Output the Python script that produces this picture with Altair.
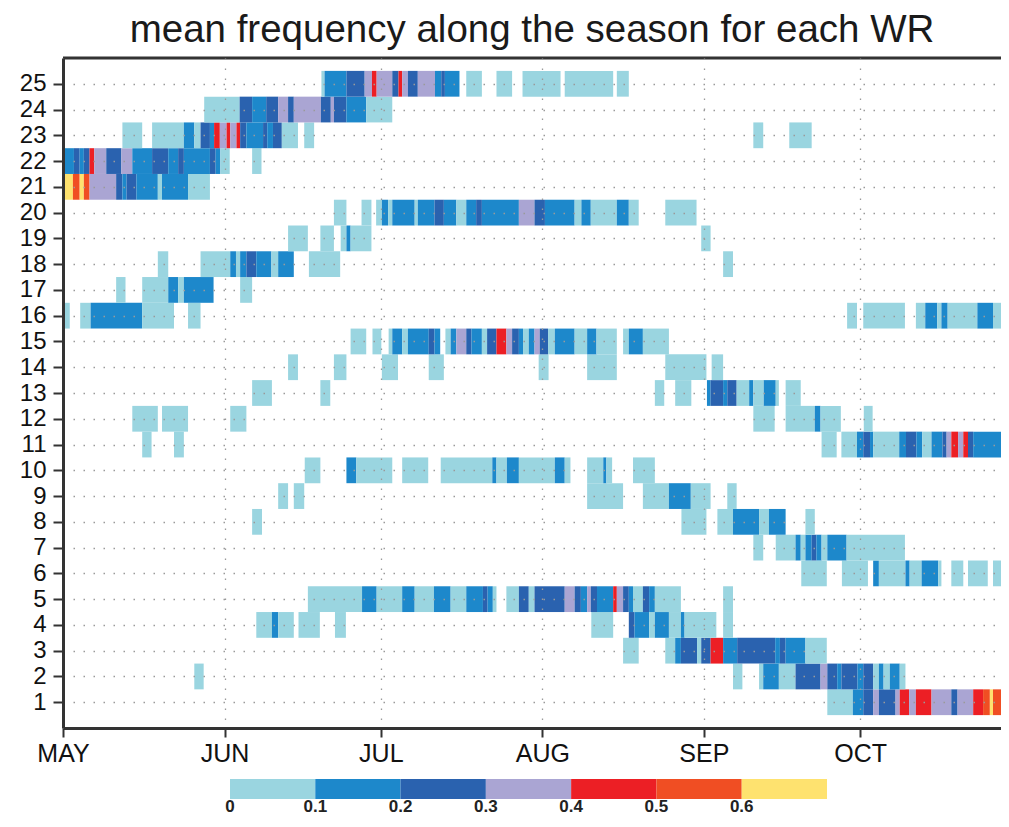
import json
import altair as alt
import pandas as pd

TITLE = "mean frequency along the season for each WR"
MONTHS = ["MAY", "JUN", "JUL", "AUG", "SEP", "OCT"]
MONTH_START = [0, 31, 61, 92, 123, 153]          # day index from 1 May
LEVEL_COLORS = ["#9ad5e0", "#1d88cb", "#2a62af", "#aaa5d3", "#ec1f25", "#f04e23", "#fee26f"]
LEVEL_LABELS = ["0", "0.1", "0.2", "0.3", "0.4", "0.5", "0.6"]

# (start day, end day, frequency class) for each weather regime row
wr25 = [(49.6, 50.2, 0), (50.2, 54.4, 1), (54.4, 57.9, 2), (57.9, 59.3, 3), (59.3, 60.2, 4), (60.2, 63.2, 3),
        (63.2, 64.4, 2), (64.4, 65.1, 4), (65.1, 66.2, 3), (66.2, 68.1, 2), (68.1, 71.4, 3), (71.4, 72.6, 1),
        (72.6, 73.3, 2), (73.3, 76.1, 1), (77.4, 80.4, 0), (83.2, 86.2, 0), (88.2, 95.5, 0), (96.3, 105.6, 0),
        (106.3, 108.6, 0)]
wr24 = [(27.1, 33.9, 0), (33.9, 36.3, 2), (36.3, 39.0, 1), (39.0, 41.3, 2), (41.3, 43.2, 3), (43.2, 44.3, 2),
        (44.3, 49.5, 3), (49.5, 51.4, 2), (51.4, 52.0, 3), (52.0, 54.4, 2), (54.4, 58.2, 1), (58.2, 63.2, 0)]
wr23 = [(11.4, 15.2, 0), (17.1, 23.2, 0), (23.2, 25.2, 1), (25.2, 26.4, 0), (26.4, 28.2, 2), (28.2, 29.0, 1),
        (29.0, 30.1, 4), (30.1, 31.4, 3), (31.4, 32.1, 4), (32.1, 33.3, 3), (33.3, 34.0, 4), (34.0, 35.2, 2),
        (35.2, 38.4, 1), (38.4, 39.2, 2), (39.2, 40.3, 1), (40.3, 42.0, 2), (42.0, 45.1, 0), (46.3, 48.2, 0),
        (132.5, 134.4, 0), (139.4, 143.7, 0)]
wr22 = [(0.0, 2.1, 1), (2.1, 3.2, 2), (3.2, 4.0, 1), (4.0, 5.1, 2), (5.1, 6.0, 4), (6.0, 8.3, 3), (8.3, 11.2, 2),
        (11.2, 13.3, 3), (13.3, 17.1, 1), (17.1, 20.2, 2), (20.2, 22.1, 1), (22.1, 23.2, 2), (23.2, 28.2, 1),
        (28.2, 29.3, 2), (29.3, 30.2, 1), (30.2, 32.0, 0), (36.3, 38.1, 0)]
wr21 = [(0.0, 1.9, 6), (1.9, 3.2, 5), (3.2, 4.0, 6), (4.0, 5.1, 5), (5.1, 10.2, 3), (10.2, 11.4, 2),
        (11.4, 12.2, 1), (12.2, 14.1, 2), (14.1, 18.2, 1), (18.2, 19.0, 0), (19.0, 24.0, 1), (24.0, 28.2, 0)]
wr20 = [(52.0, 54.4, 0), (57.3, 59.2, 0), (60.1, 61.2, 0), (61.2, 62.4, 1), (62.4, 63.2, 0), (63.2, 67.5, 1),
        (67.5, 68.1, 0), (68.1, 71.3, 1), (71.3, 73.1, 2), (73.1, 75.5, 1), (75.5, 77.4, 0), (77.4, 79.3, 1),
        (79.3, 80.4, 2), (80.4, 87.5, 1), (87.5, 90.5, 3), (90.5, 92.5, 2), (92.5, 98.2, 1), (98.2, 99.5, 0),
        (99.5, 101.3, 1), (101.3, 106.3, 0), (106.3, 108.6, 1), (108.6, 110.5, 0), (115.6, 121.6, 0)]
wr19 = [(43.2, 47.0, 0), (49.4, 52.0, 0), (53.3, 54.4, 0), (54.4, 55.2, 1), (55.2, 59.2, 0), (122.5, 124.3, 0)]
wr18 = [(18.2, 20.2, 0), (26.4, 32.1, 0), (32.1, 33.2, 1), (33.2, 34.0, 0), (34.0, 35.2, 1), (35.2, 37.1, 2),
        (37.1, 40.0, 1), (40.0, 41.3, 0), (41.3, 44.3, 1), (47.2, 53.2, 0), (126.7, 128.6, 0)]
wr17 = [(10.2, 12.0, 0), (15.2, 20.2, 0), (20.2, 22.1, 1), (22.1, 23.2, 0), (23.2, 28.9, 1), (34.0, 36.3, 0)]
wr16 = [(0.0, 1.3, 0), (3.3, 5.3, 0), (5.3, 15.2, 1), (15.2, 21.3, 0), (24.0, 26.4, 0), (150.5, 152.4, 0),
        (153.6, 161.6, 0), (163.7, 165.5, 0), (165.5, 167.8, 1), (167.8, 168.6, 0), (168.6, 169.8, 1),
        (169.8, 175.5, 0), (175.5, 178.5, 1), (178.5, 181.6, 0)]
wr15 = [(55.2, 58.2, 0), (59.4, 61.1, 0), (62.5, 63.2, 0), (63.2, 65.1, 1), (65.1, 66.2, 0), (66.2, 70.2, 1),
        (70.2, 71.3, 2), (71.3, 72.4, 1), (73.4, 74.4, 0), (74.4, 75.5, 1), (75.5, 77.4, 3), (77.4, 78.4, 2),
        (78.4, 80.4, 1), (80.4, 81.4, 0), (81.4, 83.2, 2), (83.2, 85.1, 4), (85.1, 86.2, 3), (86.2, 87.5, 2),
        (87.5, 88.3, 1), (88.3, 89.4, 0), (89.4, 90.5, 1), (90.5, 91.5, 3), (91.5, 93.1, 2), (93.1, 94.4, 0),
        (94.4, 98.2, 1), (98.2, 100.6, 0), (100.6, 102.4, 1), (102.4, 106.3, 0), (107.5, 108.6, 0),
        (108.6, 111.3, 1), (111.3, 116.3, 0)]
wr14 = [(43.2, 45.1, 0), (52.0, 54.4, 0), (61.2, 64.3, 0), (70.2, 73.1, 0), (91.3, 93.2, 0), (100.6, 106.3, 0),
        (115.6, 123.5, 0), (124.5, 126.7, 0)]
wr13 = [(36.3, 40.1, 0), (49.4, 51.3, 0), (113.6, 115.4, 0), (117.5, 120.6, 0), (123.6, 124.3, 1),
        (124.3, 126.7, 2), (126.7, 127.5, 1), (127.5, 129.3, 2), (129.3, 131.7, 0), (131.7, 132.5, 1),
        (132.5, 134.5, 0), (134.5, 136.8, 1), (136.8, 137.4, 0), (138.7, 141.6, 0)]
wr12 = [(13.3, 18.2, 0), (19.0, 24.0, 0), (32.1, 35.2, 0), (132.5, 136.6, 0), (138.7, 144.3, 0),
        (144.3, 145.4, 1), (145.4, 149.3, 0), (153.7, 155.4, 0)]
wr11 = [(15.2, 17.0, 0), (21.3, 23.2, 0), (145.6, 148.5, 0), (149.4, 152.4, 0), (152.4, 153.6, 1),
        (153.6, 154.9, 2), (154.9, 155.5, 1), (155.5, 160.5, 0), (160.5, 161.8, 1), (161.8, 163.8, 2),
        (163.8, 164.9, 1), (164.9, 166.7, 0), (166.7, 168.8, 1), (168.8, 169.6, 2), (169.6, 170.5, 3),
        (170.5, 171.8, 4), (171.8, 172.8, 3), (172.8, 173.7, 4), (173.7, 174.7, 2), (174.7, 181.6, 1)]
wr10 = [(46.4, 49.4, 0), (54.4, 56.3, 1), (56.3, 63.2, 0), (65.1, 70.1, 0), (72.5, 82.4, 0), (82.4, 83.2, 1),
        (83.2, 85.2, 0), (85.2, 87.5, 1), (87.5, 94.4, 0), (94.4, 96.3, 1), (96.3, 97.4, 0), (100.6, 103.7, 0),
        (103.7, 104.3, 1), (104.3, 105.4, 0), (109.4, 113.6, 0)]
wr09 = [(41.3, 43.2, 0), (44.3, 46.3, 0), (100.6, 107.5, 0), (111.3, 116.3, 0), (116.3, 120.5, 1),
        (120.5, 124.3, 0), (127.5, 129.3, 0)]
wr08 = [(36.3, 38.2, 0), (118.7, 123.5, 0), (125.6, 128.6, 0), (128.6, 133.6, 1), (133.6, 135.5, 0),
        (135.5, 138.7, 1), (142.5, 144.3, 0)]
wr07 = [(132.5, 134.4, 0), (136.8, 140.6, 0), (140.6, 141.6, 1), (141.6, 142.5, 0), (142.5, 143.7, 1),
        (143.7, 144.6, 2), (144.6, 145.6, 1), (145.6, 146.7, 0), (146.7, 150.4, 1), (150.4, 161.6, 0)]
wr06 = [(141.7, 146.6, 0), (149.5, 154.5, 0), (155.5, 156.6, 1), (156.6, 161.7, 0), (161.7, 162.5, 1),
        (162.5, 164.8, 0), (164.8, 168.0, 1), (168.0, 168.6, 0), (170.5, 172.8, 0), (173.7, 177.5, 0),
        (178.5, 181.6, 0)]
wr05 = [(47.0, 57.4, 0), (57.4, 60.2, 1), (60.2, 65.1, 0), (65.1, 67.5, 1), (67.5, 71.2, 0), (71.2, 74.4, 1),
        (74.4, 77.4, 0), (77.4, 80.6, 1), (80.6, 81.5, 2), (81.5, 82.5, 1), (82.5, 83.2, 0), (85.1, 87.5, 0),
        (87.5, 89.4, 2), (89.4, 90.5, 0), (90.5, 96.3, 2), (96.3, 98.2, 3), (98.2, 99.4, 2), (99.4, 100.6, 1),
        (100.6, 101.3, 3), (101.3, 102.5, 2), (102.5, 105.6, 1), (105.6, 106.3, 4), (106.3, 107.5, 3),
        (107.5, 108.6, 2), (108.6, 109.4, 1), (109.4, 111.3, 0), (111.3, 112.5, 2), (112.5, 113.6, 1),
        (113.6, 118.6, 0), (126.7, 128.6, 0)]
wr04 = [(37.1, 40.1, 0), (40.1, 41.3, 1), (41.3, 44.3, 0), (45.2, 49.3, 0), (52.2, 54.3, 0), (101.4, 105.6, 0),
        (108.6, 109.7, 2), (109.7, 112.5, 1), (112.5, 113.6, 0), (113.6, 116.3, 1), (116.3, 118.6, 0),
        (118.6, 119.3, 1), (119.3, 125.4, 0), (126.7, 128.6, 0)]
wr03 = [(107.5, 110.5, 0), (115.6, 117.5, 0), (117.5, 118.6, 1), (118.6, 121.7, 2), (121.7, 122.5, 0),
        (122.5, 124.3, 2), (124.3, 126.7, 4), (126.7, 129.4, 1), (129.4, 136.7, 2), (136.7, 137.6, 1),
        (137.6, 138.7, 2), (138.7, 142.5, 1), (142.5, 146.6, 0)]
wr02 = [(25.2, 27.0, 0), (128.6, 130.4, 0), (133.6, 134.4, 0), (134.4, 137.4, 1), (137.4, 140.6, 0),
        (140.6, 145.4, 2), (145.4, 146.7, 3), (146.7, 148.6, 2), (148.6, 149.4, 1), (149.4, 152.5, 2),
        (152.5, 153.6, 1), (153.6, 155.5, 2), (155.5, 156.6, 0), (156.6, 157.5, 1), (157.5, 158.7, 0),
        (158.7, 160.6, 1), (160.6, 161.7, 0)]
wr01 = [(146.7, 151.6, 0), (151.6, 153.6, 1), (153.6, 155.5, 2), (155.5, 156.6, 3), (156.6, 159.8, 2),
        (159.8, 160.6, 3), (160.6, 162.4, 4), (162.4, 163.7, 3), (163.7, 166.7, 4), (166.7, 170.5, 3),
        (170.5, 171.7, 2), (171.7, 174.7, 3), (174.7, 176.6, 4), (176.6, 177.9, 5), (177.9, 178.5, 6),
        (178.5, 181.6, 5)]

ROWS = [wr01, wr02, wr03, wr04, wr05, wr06, wr07, wr08, wr09, wr10, wr11, wr12, wr13,
        wr14, wr15, wr16, wr17, wr18, wr19, wr20, wr21, wr22, wr23, wr24, wr25]

recs = []
for wr, runs in enumerate(ROWS, start=1):
    for s, e, lev in runs:
        recs.append({"wr": wr, "start": s, "end": e, "y0": wr - 0.5, "y1": wr + 0.5, "level": lev})
cells = pd.DataFrame(recs)

W, H = 938, 670
PX_PER_DAY = 5.21
FONT = "Liberation Sans"

color = alt.Color("level:O", scale=alt.Scale(domain=list(range(7)), range=LEVEL_COLORS), legend=None)

label_expr = f"{json.dumps(MONTHS)}[indexof({json.dumps(MONTH_START)}, datum.value)]"

cell_layer = alt.Chart(cells).mark_rect(clip=True).encode(
    x=alt.X("start:Q", scale=alt.Scale(domain=[0, W / PX_PER_DAY], nice=False, zero=False),
            axis=alt.Axis(values=MONTH_START, labelExpr=label_expr, title=None, grid=True,
                          tickSize=9, tickWidth=2, labelFontSize=25, labelPadding=4,
                          labelFlush=False, labelOverlap=False, zindex=1)),
    x2="end:Q",
    y=alt.Y("y0:Q", scale=alt.Scale(domain=[0, 26], nice=False, zero=False),
            axis=alt.Axis(values=list(range(1, 26)), title=None, grid=True, tickSize=10,
                          tickWidth=2, labelFontSize=24, labelPadding=7, zindex=1)),
    y2="y1:Q",
    color=color,
)

frame_top = alt.Chart(pd.DataFrame({"edge": ["top"]})).mark_rule(color="#333333", strokeWidth=3).encode(
    x=alt.value(0), x2=alt.value(W), y=alt.value(0)
)

cb = pd.DataFrame({"lo": list(range(7)), "hi": list(range(1, 8)), "level": list(range(7))})
cb_labels = pd.DataFrame({"pos": list(range(7)), "label": LEVEL_LABELS})
cb_scale = alt.Scale(domain=[0, 7], range=[167, 764], nice=False, zero=False)

cb_rect = alt.Chart(cb).mark_rect().encode(
    x=alt.X("lo:Q", scale=cb_scale, axis=None),
    x2="hi:Q",
    y=alt.value(721), y2=alt.value(741),
    color=color,
)
cb_text = alt.Chart(cb_labels).mark_text(
    font=FONT, fontSize=17, fontWeight="bold", color="#222222", align="center", baseline="alphabetic"
).encode(
    x=alt.X("pos:Q", scale=cb_scale, axis=None),
    y=alt.value(754),
    text="label:N",
)

main = alt.layer(cell_layer, frame_top)
colorbar = alt.layer(cb_rect, cb_text)

chart = alt.layer(main, colorbar).resolve_scale(x="independent").properties(
    width=W, height=H,
    title=alt.TitleParams(TITLE, font=FONT, fontSize=38.5, fontWeight="normal", color="#1a1a1a",
                          anchor="middle", offset=6),
    autosize=alt.AutoSizeParams(type="none"),
    padding={"left": 55, "top": 50, "right": 0, "bottom": 89},
).configure_view(stroke=None).configure_axis(
    domainColor="#333333", domainWidth=3, tickColor="#333333",
    labelFont=FONT, labelColor="#111111",
    gridColor="#9a9a9a", gridDash=[1.5, 8.5], gridWidth=1.3,
)

chart.save("out.html", embed_options={"renderer": "svg", "actions": False})
